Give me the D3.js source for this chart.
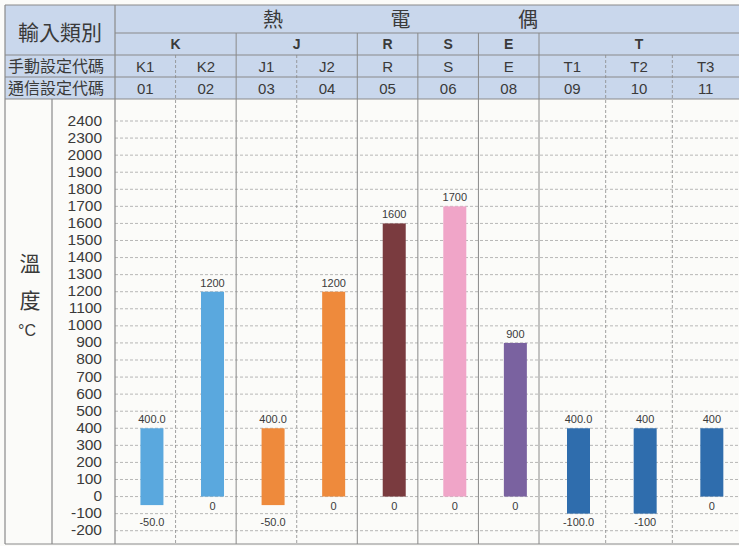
<!DOCTYPE html>
<html>
<head>
<meta charset="utf-8">
<script src="https://cdn.jsdelivr.net/npm/d3@7"></script>
<style>
  body { margin: 0; background: #fbfbf9; }
  svg { display: block; font-family: "Liberation Sans", Arial, "Noto Sans CJK TC", sans-serif; }
</style>
</head>
<body>
<div class="canvas"></div>
<script>
// data
const manualCodes = ["K1", "K2", "J1", "J2", "R", "S", "E", "T1", "T2", "T3"]
const commCodes = ["01", "02", "03", "04", "05", "06", "08", "09", "10", "11"]
const types = ["K", "K", "J", "J", "R", "S", "E", "T", "T", "T"]
const maxVals = [400, 1200, 400, 1200, 1600, 1700, 900, 400, 400, 400]
const minVals = [-50, 0, -50, 0, 0, 0, 0, -100, -100, 0]
const maxLabels = ["400.0", "1200", "400.0", "1200", "1600", "1700", "900", "400.0", "400", "400"]
const minLabels = ["-50.0", "0", "-50.0", "0", "0", "0", "0", "-100.0", "-100", "0"]
const tickLabels = ["2400", "2300", "2000", "1900", "1800", "1700", "1600", "1500", "1400", "1300",
  "1200", "1100", "1000", "900", "800", "700", "600", "500", "400", "300", "200", "100", "0", "-100", "-200"]
const typeNames = ["K", "J", "R", "S", "E", "T"]
const typeColors = ["#5aa8de", "#ee8a3c", "#7a3b3f", "#f0a5c8", "#7a62a0", "#2f6dad"]
const titleChars = ["熱", "電", "偶"]

const W = 739, H = 546
const textCol = "#3a3a3a"
const lineCol = "#8a8a8a"

const svg = d3
  .select(".canvas")
  .append("svg")
  .attr("width", W)
  .attr("height", H)

// columns: first seven groups share one band, the T columns are a bit wider
const xMain = d3.scaleBand().domain(manualCodes.slice(0, 7)).range([115, 539])
const xT = d3.scaleBand().domain(manualCodes.slice(7)).range([539, 739])
const colX = c => (xMain.domain().includes(c) ? xMain(c) : xT(c))
const colW = c => (xMain.domain().includes(c) ? xMain.bandwidth() : xT.bandwidth())

const tickY = d3.scalePoint().domain(tickLabels).range([121, 530.7])
const y = d3.scaleLinear().domain([-200, 2000]).range([tickY("-200"), tickY("2000")])
const color = d3.scaleOrdinal().domain(typeNames).range(typeColors)

const rows = manualCodes.map((c, i) => ({
  code: c, comm: commCodes[i], type: types[i],
  max: maxVals[i], min: minVals[i], maxLabel: maxLabels[i], minLabel: minLabels[i]
}))

// header background
svg.append("rect").attr("x", 5).attr("y", 5).attr("width", W - 5).attr("height", 94).attr("fill", "#c9d7ec")

// grid lines
svg.append("g")
  .selectAll("line")
  .data(tickLabels)
  .enter()
  .append("line")
  .attr("x1", 115).attr("x2", W)
  .attr("y1", d => tickY(d)).attr("y2", d => tickY(d))
  .attr("stroke", "#9a9a9a")
  .attr("stroke-width", 0.7)
  .attr("stroke-dasharray", "3,2")

// vertical column lines
const bounds = rows.slice(1).map((d, i) => ({ x: colX(d.code), group: d.type !== rows[i].type }))
svg.append("g")
  .selectAll("line")
  .data(bounds)
  .enter()
  .append("line")
  .attr("x1", d => d.x).attr("x2", d => d.x)
  .attr("y1", d => (d.group ? 33 : 55)).attr("y2", 544)
  .attr("stroke", lineCol)
  .attr("stroke-width", d => (d.group ? 1 : 0.8))
  .attr("stroke-dasharray", d => (d.group ? null : "3,2"))

// table frame
const hLines = [[5, 5, W], [33, 115, W], [55, 5, W], [77, 5, W], [99, 5, W], [544, 5, W]]
svg.append("g")
  .selectAll("line")
  .data(hLines)
  .enter()
  .append("line")
  .attr("x1", d => d[1]).attr("x2", d => d[2])
  .attr("y1", d => d[0]).attr("y2", d => d[0])
  .attr("stroke", lineCol)
  .attr("stroke-width", 1.2)
const vLines = [[5, 5, 544], [115, 5, 544], [52, 99, 544]]
svg.append("g")
  .selectAll("line")
  .data(vLines)
  .enter()
  .append("line")
  .attr("x1", d => d[0]).attr("x2", d => d[0])
  .attr("y1", d => d[1]).attr("y2", d => d[2])
  .attr("stroke", lineCol)
  .attr("stroke-width", 1.2)

// header texts
const hdr = svg.append("g").attr("fill", textCol).attr("text-anchor", "middle").attr("dominant-baseline", "central")
hdr.append("text").attr("x", 60).attr("y", 32).attr("font-size", 21).text("輸入類別")
hdr.append("text").attr("x", 56).attr("y", 66).attr("font-size", 16).text("手動設定代碼")
hdr.append("text").attr("x", 56).attr("y", 88).attr("font-size", 16).text("通信設定代碼")
const titleX = d3.scalePoint().domain(titleChars).range([273, 528])
hdr.selectAll(".title")
  .data(titleChars)
  .enter()
  .append("text")
  .attr("class", "title")
  .attr("x", d => titleX(d)).attr("y", 20)
  .attr("font-size", 20)
  .text(d => d)

// type groups in row 2
const groups = typeNames.map(t => {
  const cols = rows.filter(r => r.type === t)
  const x0 = colX(cols[0].code)
  const last = cols[cols.length - 1].code
  return { t, cx: (x0 + colX(last) + colW(last)) / 2 }
})
hdr.selectAll(".grp")
  .data(groups)
  .enter()
  .append("text")
  .attr("class", "grp")
  .attr("x", d => d.cx).attr("y", 44)
  .attr("font-size", 14).attr("font-weight", "bold")
  .text(d => d.t)

hdr.selectAll(".man")
  .data(rows)
  .enter()
  .append("text")
  .attr("class", "man")
  .attr("x", d => colX(d.code) + colW(d.code) / 2).attr("y", 66)
  .attr("font-size", 15)
  .text(d => d.code)
hdr.selectAll(".com")
  .data(rows)
  .enter()
  .append("text")
  .attr("class", "com")
  .attr("x", d => colX(d.code) + colW(d.code) / 2).attr("y", 88)
  .attr("font-size", 15)
  .text(d => d.comm)

// axis title
hdr.append("text").attr("x", 30).attr("y", 263).attr("font-size", 21).text("溫")
hdr.append("text").attr("x", 30).attr("y", 300).attr("font-size", 21).text("度")
hdr.append("text").attr("x", 27).attr("y", 330).attr("font-size", 16).text("°C")

// tick labels
svg.append("g")
  .selectAll("text")
  .data(tickLabels)
  .enter()
  .append("text")
  .attr("x", 102)
  .attr("y", d => tickY(d) - 1)
  .attr("text-anchor", "end")
  .attr("dominant-baseline", "central")
  .attr("font-size", 15.5)
  .attr("fill", textCol)
  .text(d => d)

// bars
const barW = 23
const barX = d => colX(d.code) + colW(d.code) * 0.42
svg.append("g")
  .selectAll("rect")
  .data(rows)
  .enter()
  .append("rect")
  .attr("x", barX)
  .attr("y", d => y(d.max))
  .attr("width", barW)
  .attr("height", d => y(d.min) - y(d.max))
  .attr("fill", d => color(d.type))

// value labels
const lab = svg.append("g").attr("fill", textCol).attr("font-size", 11)
  .attr("text-anchor", "middle").attr("dominant-baseline", "central")
lab.selectAll(".top")
  .data(rows)
  .enter()
  .append("text")
  .attr("class", "top")
  .attr("x", d => barX(d) + barW / 2)
  .attr("y", d => y(d.max) - 9)
  .text(d => d.maxLabel)
lab.selectAll(".bot")
  .data(rows)
  .enter()
  .append("text")
  .attr("class", "bot")
  .attr("x", d => barX(d) + barW / 2)
  .attr("y", d => (d.min < 0 ? y(-100) + 8 : y(d.min) + 9))
  .text(d => d.minLabel)
</script>
</body>
</html>
